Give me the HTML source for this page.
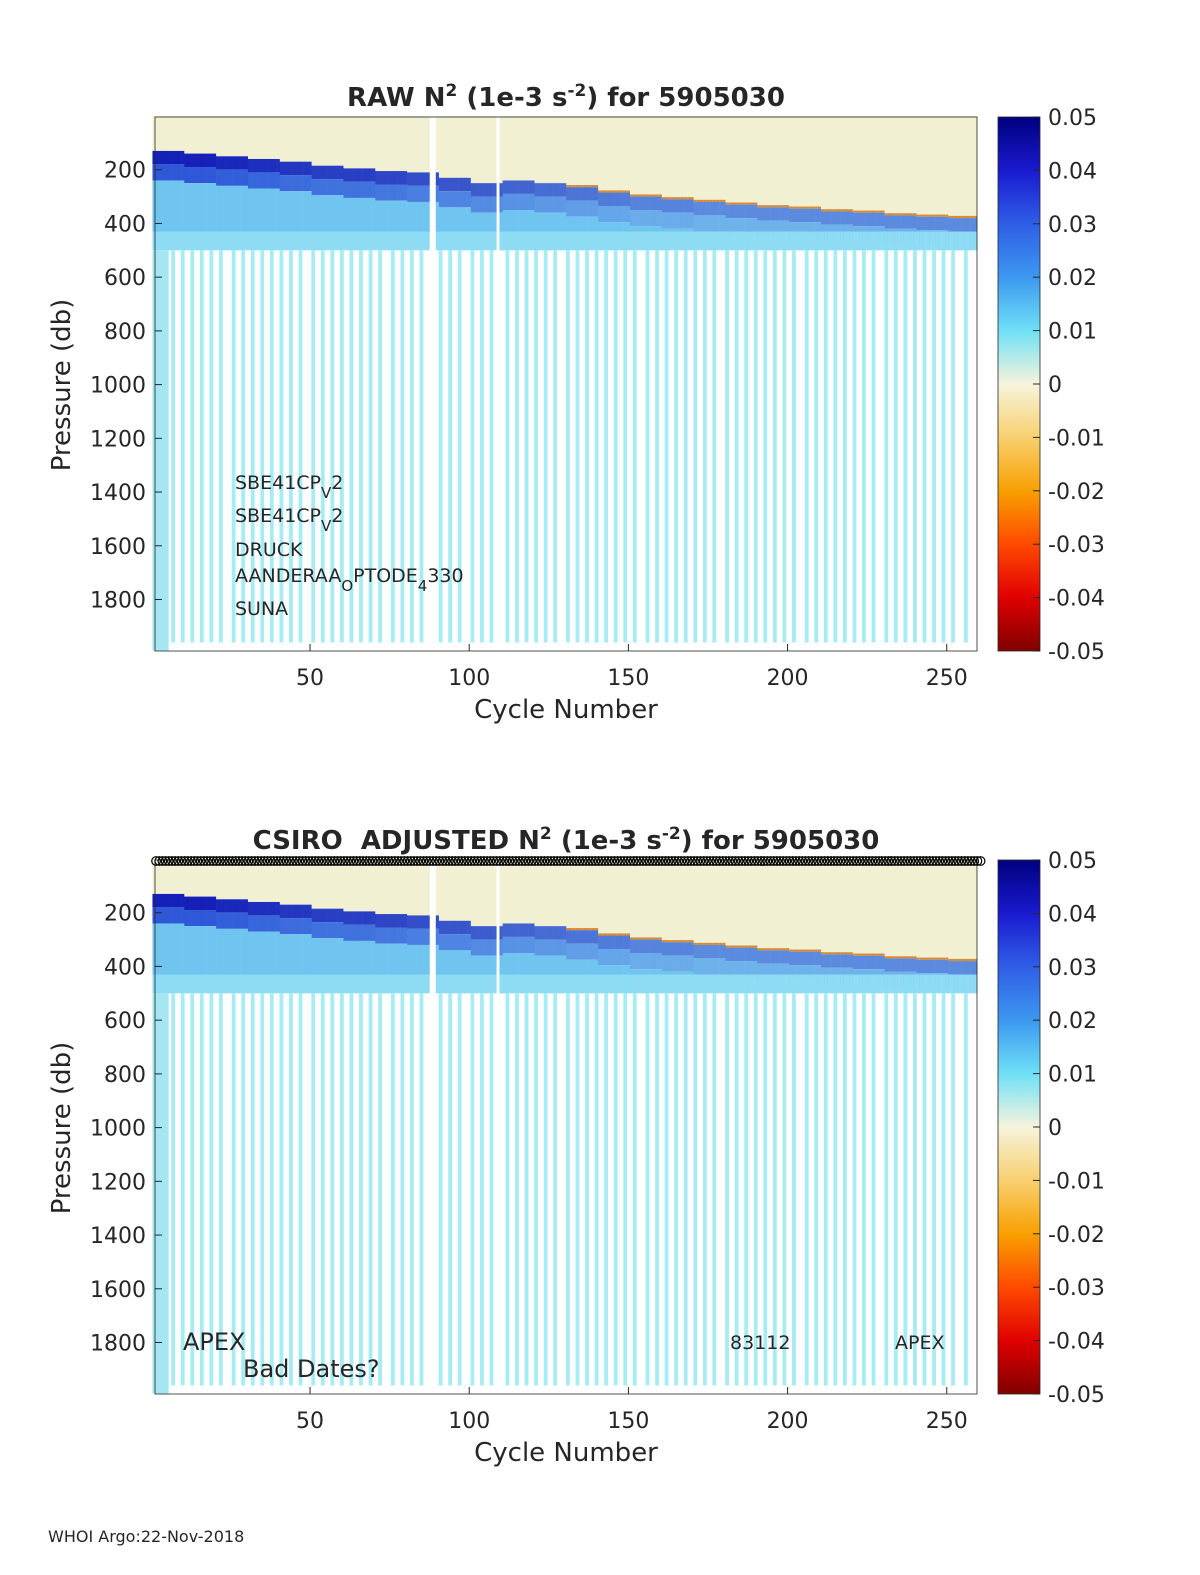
<!DOCTYPE html>
<html><head><meta charset="utf-8">
<style>
html,body{margin:0;padding:0;background:#fff;overflow:hidden;width:1200px;height:1575px;}
svg{display:block;}
svg text{font-family:"DejaVu Sans","Liberation Sans",sans-serif;fill:#262626;}
</style></head>
<body>
<svg id="chart" width="1200" height="1575" viewBox="0 0 1200 1575" xmlns="http://www.w3.org/2000/svg">
<defs>
<linearGradient id="cmap" x1="0" y1="0" x2="0" y2="1">
<stop offset="0" stop-color="#00007f"/>
<stop offset="0.1" stop-color="#1a1ad0"/>
<stop offset="0.2" stop-color="#2f5ee6"/>
<stop offset="0.3" stop-color="#3c98f0"/>
<stop offset="0.4" stop-color="#6fe0f6"/>
<stop offset="0.5" stop-color="#f6f4dc"/>
<stop offset="0.6" stop-color="#f8d070"/>
<stop offset="0.7" stop-color="#f8a000"/>
<stop offset="0.8" stop-color="#ff4a00"/>
<stop offset="0.9" stop-color="#e00000"/>
<stop offset="1" stop-color="#800000"/>
</linearGradient>
</defs>
<g id="panels"></g>
<text x="48" y="1542" font-size="16">WHOI Argo:22-Nov-2018</text>
</svg>
<script>
// Data: mixed layer / thermocline top depth (db) per 10-cycle block
const blockStart = [1,11,21,31,41,51,61,71,81,91,101,111,121,131,141,151,161,171,181,191,201,211,221,231,241,251];
const mldDepth   = [130,140,150,160,170,185,195,205,210,230,250,240,250,265,285,300,310,320,330,340,345,355,360,370,375,380];
const bandStrength=[1,1,0.95,0.9,0.85,0.8,0.8,0.75,0.7,0.65,0.6,0.55,0.5,0.45,0.4,0.35,0.35,0.3,0.3,0.3,0.3,0.3,0.3,0.3,0.3,0.3];
const gapCycles = [88.5,109];
const deepCycles = [7,10,13,16,19,22,26,29,32,35,38,41,44,47,51,54,57,60,63,66,69,72,76,79,82,85,91,94,97,101,104,107,112,115,118,121,124,127,131,134,137,140,143,146,149,152,156,159,162,165,168,171,174,177,181,184,187,190,193,196,199,202,206,209,212,215,218,221,224,227,231,234,237,240,243,246,249,252,256];
const xTicks = [50,100,150,200,250];
const yTicks = [200,400,600,800,1000,1200,1400,1600,1800];
const cbTicks = ['0.05','0.04','0.03','0.02','0.01','0','-0.01','-0.02','-0.03','-0.04','-0.05'];

const NS='http://www.w3.org/2000/svg';
const panels=document.getElementById('panels');
const X0=155,X1=977,C0=1.3,C1=259.5;
function xs(c){return X0+(c-C0)*(X1-X0)/(C1-C0);}
function mk(tag,attrs,parent){const e=document.createElementNS(NS,tag);for(const k in attrs)e.setAttribute(k,attrs[k]);parent.appendChild(e);return e;}
function blockOf(c){let i=0;for(let j=0;j<blockStart.length;j++)if(c>=blockStart[j])i=j;return i;}
function mix(a,b,t){const pa=[parseInt(a.slice(1,3),16),parseInt(a.slice(3,5),16),parseInt(a.slice(5,7),16)],pb=[parseInt(b.slice(1,3),16),parseInt(b.slice(3,5),16),parseInt(b.slice(5,7),16)];return 'rgb('+pa.map((v,i)=>Math.round(v+(pb[i]-v)*t)).join(',')+')';}

function panel(oy,title,adjusted){
  const g=mk('g',{},panels);
  
  
  const ys=p=>oy+116+p*0.2686;
  const top=oy+117,bot=oy+651;
  for(let c=1;c<=259;c++){
    if(gapCycles.some(gc=>Math.abs(c-gc)<0.6))continue;
    const b=blockOf(c),m=mldDepth[b],s=bandStrength[b];
    const x=xs(c-0.5),w=xs(c+0.5)-x+0.3;
    const cells=[[0,m,'#f2f0d2'],[m,m+50,mix('#7ab8ee','#1420b8',s)],[m+50,m+110,mix('#8ad8f4','#2e58d8',s)],[m+110,430,'#6fc4f0'],[430,500,'#8edcf4']];
    if(s<0.5) cells.splice(1,0,[m-8,m,'#d88a30']);
    cells.forEach(cl=>{
      if(cl[1]<=cl[0])return;
      const r=mk('rect',{x:x,y:ys(cl[0]),width:w,height:ys(cl[1])-ys(cl[0]),fill:cl[2]},g);
      
      
    });
    if(c<=5){
      const r=mk('rect',{x:x,y:ys(500),width:w,height:ys(1990)-ys(500),fill:'#a4e6f2'},g);
      
      
    }
  }
  deepCycles.forEach(c=>{
    const x=xs(c-0.6),w=xs(c+0.6)-x;
    const r=mk('rect',{x:x,y:ys(500),width:w,height:ys(1960)-ys(500),fill:'#a6ecf4'},g);
    
    
  });
  const ax=mk('rect',{x:X0,y:top,width:X1-X0,height:bot-top,fill:'none',stroke:'#262626','stroke-width':0.8},g);
  
  
  xTicks.forEach(t=>{
    mk('line',{x1:xs(t),x2:xs(t),y1:bot,y2:bot-7,stroke:'#262626'},g);
    const tx=mk('text',{x:xs(t),y:oy+685,'font-size':22,'text-anchor':'middle'},g);
    tx.textContent=t;
    
    
  });
  yTicks.forEach(t=>{
    mk('line',{x1:X0,x2:X0+7,y1:ys(t),y2:ys(t),stroke:'#262626'},g);
    const tx=mk('text',{x:146,y:ys(t)+8,'font-size':22,'text-anchor':'end'},g);
    tx.textContent=t;
    
    
  });
  const xl=mk('text',{x:566,y:oy+718,'font-size':26,'text-anchor':'middle'},g);
  xl.textContent='Cycle Number';
  
  
  const yl=mk('text',{x:0,y:0,'font-size':26,'text-anchor':'middle',transform:'translate(70,'+(oy+385)+') rotate(-90)'},g);
  yl.textContent='Pressure (db)';
  
  
  const tt=mk('text',{x:566,y:oy+106,'font-size':26,'font-weight':'bold','text-anchor':'middle'},g);
  tt.innerHTML=title;
  
  
  const cb=mk('rect',{x:998,y:top,width:42,height:bot-top,fill:'url(#cmap)',stroke:'#262626','stroke-width':0.8},g);
  
  
  cbTicks.forEach((t,i)=>{
    const y=top+i*(bot-top)/(cbTicks.length-1);
    mk('line',{x1:1033,x2:1040,y1:y,y2:y,stroke:'#262626'},g);
    const tx=mk('text',{x:1048,y:y+8,'font-size':22},g);
    tx.textContent=t;
    
    
  });
  return {g,ys};
}

const p1=panel(0,'RAW N<tspan baseline-shift="super" font-size="17">2</tspan> (1e-3 s<tspan baseline-shift="super" font-size="17">-2</tspan>) for 5905030',false);
const notes=[['SBE41CP<tspan baseline-shift="sub" font-size="15">V</tspan>2',489],['SBE41CP<tspan baseline-shift="sub" font-size="15">V</tspan>2',522],['DRUCK',556],['AANDERAA<tspan baseline-shift="sub" font-size="15">O</tspan>PTODE<tspan baseline-shift="sub" font-size="15">4</tspan>330',582],['SUNA',615]];
notes.forEach(n=>{
  const t=mk('text',{x:235,y:n[1],'font-size':19,fill:'#000'},p1.g);
  t.innerHTML=n[0];
  
  
});

const p2=panel(743,'CSIRO&#160; ADJUSTED N<tspan baseline-shift="super" font-size="17">2</tspan> (1e-3 s<tspan baseline-shift="super" font-size="17">-2</tspan>) for 5905030',true);
for(let c=1;c<=260;c++){
  const ci=mk('circle',{cx:xs(c)+2,cy:861,r:4.3,fill:'none',stroke:'#000','stroke-width':1.2},p2.g);
  
  
}
[['APEX',183,1350,24],['Bad Dates?',243,1377,24],['83112',730,1349,19],['APEX',895,1349,19]].forEach(n=>{
  const t=mk('text',{x:n[1],y:n[2],'font-size':n[3],fill:'#000'},p2.g);
  t.textContent=n[0];
  
  
});
</script>
</body></html>
